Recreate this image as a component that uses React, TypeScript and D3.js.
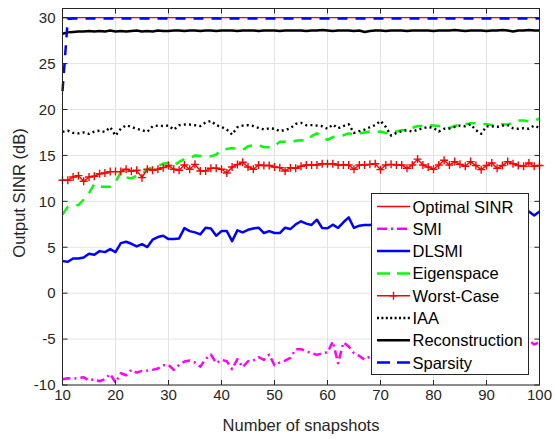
import React, { useEffect, useRef } from 'react';
import * as d3 from 'd3';

// snapshot counts on the x axis
const snapshots = d3.range(10, 101);

const optimalSinr = snapshots.map(() => 30);

const smi = [
  -9.37, -9.26, -9.3, -9.26, -9.15, -9.52, -9.37, -9.59, -9.37, -8.79,
  -9.74, -8.72, -8.94, -8.35, -8.65, -8.46, -8.43, -8.35, -8.21, -7.85,
  -7.81, -8.35, -7.81, -7.45, -7.34, -7.55, -8.0, -7.19, -6.68, -7.63,
  -7.26, -7.41, -8.28, -7.19, -8.06, -7.41, -7.34, -6.97, -7.26, -6.68,
  -7.85, -7.55, -7.34, -7.05, -6.1, -6.1, -6.35, -6.54, -6.72, -6.54,
  -6.46, -5.26, -7.63, -5.37, -5.81, -6.54, -6.83, -7.26, -6.9, -6.7,
  -6.4, -6.9, -6.2, -6.6, -6.0, -6.5, -6.3, -5.9, -6.4, -6.1,
  -6.6, -5.8, -6.2, -5.9, -6.3, -5.7, -6.1, -5.6, -6.0, -5.8,
  -5.5, -6.0, -5.7, -5.4, -5.9, -5.5, -5.8, -5.3, -5.1, -5.6, -5.3,
];

const dlsmi = [
  3.49, 3.42, 3.78, 3.78, 3.89, 4.29, 4.18, 4.58, 4.47, 4.8,
  4.47, 5.45, 5.6, 5.38, 5.09, 5.35, 5.02, 5.82, 6.11, 6.25,
  5.89, 5.89, 5.96, 7.09, 6.76, 6.62, 6.4, 7.13, 7.05, 6.25,
  6.76, 6.76, 5.67, 6.84, 6.62, 6.9, 7.05, 7.13, 6.55, 6.76,
  6.55, 6.55, 7.13, 6.98, 7.49, 7.83, 7.57, 7.43, 8.0, 7.1,
  7.06, 7.46, 7.1, 7.72, 8.26, 7.1, 7.35, 7.43, 7.43, 7.5,
  7.6, 7.4, 7.8, 7.7, 7.5, 7.9, 8.1, 7.6, 7.8, 8.0,
  7.7, 7.9, 8.2, 7.8, 8.0, 8.3, 7.9, 8.1, 8.4, 8.0,
  8.2, 8.5, 8.1, 8.3, 8.6, 8.2, 8.5, 8.7, 8.9, 8.45, 8.9,
];

const eigenspace = [
  8.55, 9.4, 9.5, 9.6, 10.2, 10.9, 11.9, 11.6, 11.6, 11.6,
  12.1, 13.2, 12.6, 12.5, 12.8, 13.0, 13.5, 13.7, 13.8, 14.1,
  14.2, 13.9, 14.3, 14.6, 14.7, 15.0, 14.95, 14.9, 14.9, 15.1,
  15.6, 15.7, 15.8, 15.7, 15.6, 16.0, 16.1, 16.1, 15.9, 15.9,
  16.0, 16.5, 16.5, 16.4, 16.6, 16.65, 16.6, 17.1, 17.4, 17.0,
  16.7, 17.0, 17.1, 17.2, 17.4, 17.3, 17.4, 17.5, 17.6, 17.5,
  17.6, 17.45, 17.4, 17.6, 17.75, 17.8, 18.0, 18.2, 18.2, 18.3,
  18.25, 18.2, 18.1, 18.0, 18.2, 18.35, 18.4, 18.5, 18.5, 18.45,
  18.4, 18.3, 18.4, 18.4, 18.35, 18.6, 18.8, 18.8, 18.7, 18.8, 19.0,
];

const worstCase = [
  12.29, 12.29, 12.65, 12.8, 12.18, 12.65, 12.73, 13.0, 13.09, 13.24,
  13.24, 13.24, 13.5, 13.27, 13.38, 12.58, 13.5, 13.38, 13.5, 13.67,
  13.9, 13.5, 13.38, 13.96, 13.5, 14.03, 13.31, 13.31, 13.6, 13.6,
  13.5, 13.09, 13.74, 14.0, 14.25, 13.74, 13.5, 13.96, 13.9, 13.9,
  13.74, 13.67, 13.31, 13.67, 13.6, 13.82, 13.96, 13.96, 13.96, 14.1,
  14.1, 14.1, 13.96, 13.96, 13.96, 13.5, 13.96, 13.96, 14.03, 14.1,
  13.45, 13.96, 14.03, 13.96, 13.96, 13.6, 13.96, 14.6, 13.96, 13.74,
  13.5, 13.96, 14.47, 13.96, 14.33, 14.03, 13.82, 14.33, 13.9, 13.45,
  13.9, 14.18, 13.6, 13.9, 14.33, 14.1, 13.9, 13.82, 14.18, 13.82, 13.9,
];

const iaa = [
  17.56, 17.7, 17.45, 17.4, 17.5, 17.35, 17.6, 17.7, 17.56, 18.07,
  17.16, 17.9, 18.29, 18.1, 17.9, 17.75, 17.56, 18.18, 18.25, 18.2,
  18.25, 17.8, 18.29, 18.36, 18.36, 18.29, 18.2, 18.6, 18.76, 18.3,
  18.1, 17.82, 17.27, 18.07, 18.25, 18.3, 18.2, 18.0, 17.82, 17.96,
  17.9, 17.64, 17.78, 17.96, 18.44, 18.54, 18.29, 18.3, 18.25, 18.18,
  17.9, 18.36, 17.96, 18.2, 18.4, 17.45, 17.64, 17.82, 18.07, 18.3,
  18.76, 18.1, 17.16, 17.45, 17.64, 17.75, 17.6, 17.78, 17.96, 18.1,
  18.0, 17.6, 17.9, 17.93, 18.1, 18.25, 18.18, 18.4, 17.75, 17.35,
  18.18, 18.18, 18.1, 18.25, 18.3, 17.96, 17.9, 17.96, 17.9, 18.25, 18.0,
];

const reconstruction = [
  28.25, 28.4, 28.45, 28.5, 28.5, 28.55, 28.5, 28.55, 28.5, 28.6,
  28.5, 28.55, 28.5, 28.55, 28.6, 28.5, 28.55, 28.5, 28.6, 28.55,
  28.55, 28.6, 28.6, 28.55, 28.6, 28.6, 28.55, 28.6, 28.6, 28.55,
  28.6, 28.6, 28.6, 28.55, 28.6, 28.6, 28.6, 28.55, 28.6, 28.6,
  28.6, 28.55, 28.6, 28.6, 28.6, 28.6, 28.55, 28.6, 28.6, 28.65,
  28.6, 28.55, 28.6, 28.6, 28.6, 28.55, 28.6, 28.45, 28.55, 28.6,
  28.6, 28.55, 28.6, 28.6, 28.6, 28.55, 28.6, 28.6, 28.6, 28.6,
  28.55, 28.6, 28.6, 28.6, 28.65, 28.6, 28.55, 28.6, 28.6, 28.6,
  28.55, 28.6, 28.6, 28.65, 28.6, 28.5, 28.6, 28.6, 28.65, 28.6, 28.6,
];

const sparsity = [22.0, 29.85, ...snapshots.slice(2).map(() => 29.9)];

const seriesNames = [
  'Optimal SINR', 'SMI', 'DLSMI', 'Eigenspace', 'Worst-Case', 'IAA', 'Reconstruction', 'Sparsity',
];

const xTicks = [10, 20, 30, 40, 50, 60, 70, 80, 90, 100];
const yTicks = [-10, -5, 0, 5, 10, 15, 20, 25, 30];

type Style = { color: string; width: number; dash?: string; legendDash?: string; marker?: boolean };

const styles: Style[] = [
  { color: '#ff0000', width: 1.3 },
  { color: '#ff00ff', width: 2.5, dash: '8,4,2,4', legendDash: '10,4,2,4' },
  { color: '#0000ff', width: 2.5 },
  { color: '#00ff00', width: 2.5, dash: '10,8', legendDash: '13,7' },
  { color: '#ff0000', width: 1.4, marker: true },
  { color: '#000000', width: 2.4, dash: '2,3.2', legendDash: '2,2.4' },
  { color: '#000000', width: 2.5 },
  { color: '#0000ff', width: 2.5, dash: '10,8', legendDash: '13,7' },
];

const W = 555;
const H = 439;
const FONT = 'Liberation Sans, Arial, Helvetica, sans-serif';

const App = () => {
  const svgRef = useRef<SVGSVGElement>(null);

  useEffect(() => {
    const svg = d3.select(svgRef.current);
    svg.selectAll('*').remove();

    const margin = { top: 8.5, right: 15.5, bottom: 54, left: 62.5 };
    const x = d3.scaleLinear().domain([10, 100]).range([margin.left, W - margin.right]);
    const y = d3.scaleLinear().domain([-10, 31]).range([H - margin.bottom, margin.top]);
    const [x0, x1] = x.range();
    const [y0, y1] = y.range();

    svg.append('rect').attr('width', W).attr('height', H).attr('fill', 'white');

    // grid
    const grid = svg.append('g').attr('stroke', '#e3e3e3').attr('stroke-width', 1);
    xTicks.forEach(t => {
      grid.append('line').attr('x1', x(t)).attr('x2', x(t)).attr('y1', y0).attr('y2', y1);
    });
    yTicks.forEach(t => {
      grid.append('line').attr('x1', x0).attr('x2', x1).attr('y1', y(t)).attr('y2', y(t));
    });

    // series
    const all = [optimalSinr, smi, dlsmi, eigenspace, worstCase, iaa, reconstruction, sparsity];
    const line = d3.line<number>()
      .x((_, i) => x(snapshots[i]))
      .y(d => y(d));

    all.forEach((vals, k) => {
      const s = styles[k];
      svg.append('path')
        .attr('d', line(vals))
        .attr('fill', 'none')
        .attr('stroke', s.color)
        .attr('stroke-width', s.width)
        .attr('stroke-dasharray', s.dash || null)
        .attr('stroke-linejoin', 'round');
      if (s.marker) {
        const m = svg.append('g').attr('stroke', s.color).attr('stroke-width', 1.4);
        vals.forEach((v, i) => {
          const cx = x(snapshots[i]);
          const cy = y(v);
          m.append('path').attr('d', `M${cx - 4},${cy}H${cx + 4}M${cx},${cy - 4}V${cy + 4}`);
        });
      }
    });

    // axes box and ticks
    const axisColor = '#262626';
    svg.append('rect')
      .attr('x', x0).attr('y', y1)
      .attr('width', x1 - x0).attr('height', y0 - y1)
      .attr('fill', 'none').attr('stroke', axisColor).attr('stroke-width', 1);

    const ticks = svg.append('g').attr('stroke', axisColor).attr('stroke-width', 1);
    const tl = 5;
    xTicks.forEach(t => {
      ticks.append('line').attr('x1', x(t)).attr('x2', x(t)).attr('y1', y0).attr('y2', y0 - tl);
      ticks.append('line').attr('x1', x(t)).attr('x2', x(t)).attr('y1', y1).attr('y2', y1 + tl);
    });
    yTicks.forEach(t => {
      ticks.append('line').attr('x1', x0).attr('x2', x0 + tl).attr('y1', y(t)).attr('y2', y(t));
      ticks.append('line').attr('x1', x1).attr('x2', x1 - tl).attr('y1', y(t)).attr('y2', y(t));
    });

    const labels = svg.append('g').attr('font-family', FONT).attr('fill', axisColor);
    xTicks.forEach(t => {
      labels.append('text')
        .attr('x', x(t)).attr('y', y0 + 15)
        .attr('text-anchor', 'middle')
        .attr('font-size', 15)
        .text(t);
    });
    yTicks.forEach(t => {
      labels.append('text')
        .attr('x', x0 - 7).attr('y', y(t) + 5.3)
        .attr('text-anchor', 'end')
        .attr('font-size', 15)
        .text(t);
    });

    labels.append('text')
      .attr('x', (x0 + x1) / 2).attr('y', H - 8)
      .attr('text-anchor', 'middle')
      .attr('font-size', 16.5)
      .text('Number of snapshots');

    labels.append('text')
      .attr('transform', `translate(25,193) rotate(-90)`)
      .attr('text-anchor', 'middle')
      .attr('font-size', 16.5)
      .text('Output SINR (dB)');

    // legend
    const lg = svg.append('g');
    lg.append('rect')
      .attr('x', 371.5).attr('y', 193.5)
      .attr('width', 157).attr('height', 181)
      .attr('fill', 'white').attr('stroke', axisColor).attr('stroke-width', 1);
    seriesNames.forEach((name, k) => {
      const s = styles[k];
      const ly = 206.5 + k * 22.3;
      lg.append('line')
        .attr('x1', 377).attr('x2', 410).attr('y1', ly).attr('y2', ly)
        .attr('stroke', s.color)
        .attr('stroke-width', s.width)
        .attr('stroke-dasharray', s.legendDash || null);
      if (s.marker) {
        lg.append('path')
          .attr('d', `M389.5,${ly}H397.5M393.5,${ly - 4}V${ly + 4}`)
          .attr('stroke', s.color).attr('stroke-width', 1.4);
      }
      lg.append('text')
        .attr('x', 412.5).attr('y', ly + 6)
        .attr('font-family', FONT)
        .attr('font-size', 16.5)
        .attr('fill', '#000')
        .text(name);
    });
  }, []);

  return (
    <svg
      ref={svgRef}
      width={W}
      height={H}
      style={{ position: 'absolute', left: 0, top: 0 }}
    />
  );
};

export default App;
